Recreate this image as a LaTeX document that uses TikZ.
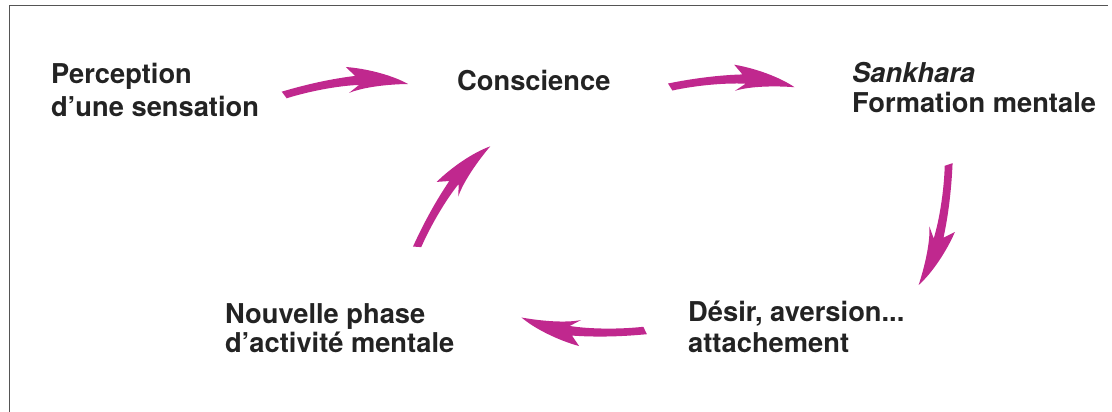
\documentclass[tikz,border=0pt]{standalone}
\usepackage{fontspec}
\setmainfont{TeX Gyre Heros}
\definecolor{mag}{RGB}{192,40,142}
\definecolor{ink}{RGB}{35,35,35}
\definecolor{framegray}{RGB}{85,85,85}
\tikzset{
  lbl/.style={anchor=base west, inner sep=0pt, align=left, text=ink,
    font=\bfseries\fontsize{27.3}{#1}\selectfont},
  lbl/.default=31,
  swoosh/.pic={
    \fill[mag] (-2,3.5) .. controls (25,9) and (50,12) .. (72.4,12.7)
      -- (64.2,22.4)
      .. controls (85,19) and (110,10) .. (124.5,0)
      .. controls (105,1.5) and (80,1) .. (65,-3.7)
      -- (75.6,3.4)
      .. controls (55,4.5) and (25,1.5) .. (2.4,-3.5)
      -- cycle;
  },
  framestyle/.style={draw=framegray, line width=1.6pt}
}
\begin{document}
\begin{tikzpicture}[x=1pt,y=1pt]
\useasboundingbox (0,0) rectangle (1112,-412);
% frame (top and left edges)
\coordinate (fbl) at (9.5,-413);
\coordinate (ftl) at (9.5,-5.5);
\coordinate (ftr) at (1108,-5.5);
\draw[framestyle] (fbl) -- (ftl) -- (ftr);
% labels (base anchor = baseline of the last line)
\node[lbl=32.5] (perc) at (51,-116.5) {Perception\\d’une sensation};
\node[lbl] (consc) at (457,-91) {Conscience};
\node[lbl=30] (sank) at (852,-113) {\textit{Sankhara}\\Formation mentale};
\node[lbl=31] (desir) at (688,-352) {Désir, aversion...\\attachement};
\node[lbl=29.3] (nouv) at (225,-352.3) {Nouvelle phase\\d’activité mentale};
% arrows (tails)
\coordinate (t1) at (284,-95);
\coordinate (t2) at (670,-87);
\coordinate (t3) at (948.7,-164.3);
\coordinate (t4) at (645.3,-330.5);
\coordinate (t5) at (417,-247);
\pic[rotate=5.07] at (t1) {swoosh};
\pic[rotate=-0.1] at (t2) {swoosh};
\pic[rotate=-104.0] at (t3) {swoosh};
\pic[rotate=174.0] at (t4) {swoosh};
\pic[rotate=53.95] at (t5) {swoosh};
\end{tikzpicture}
\end{document}
